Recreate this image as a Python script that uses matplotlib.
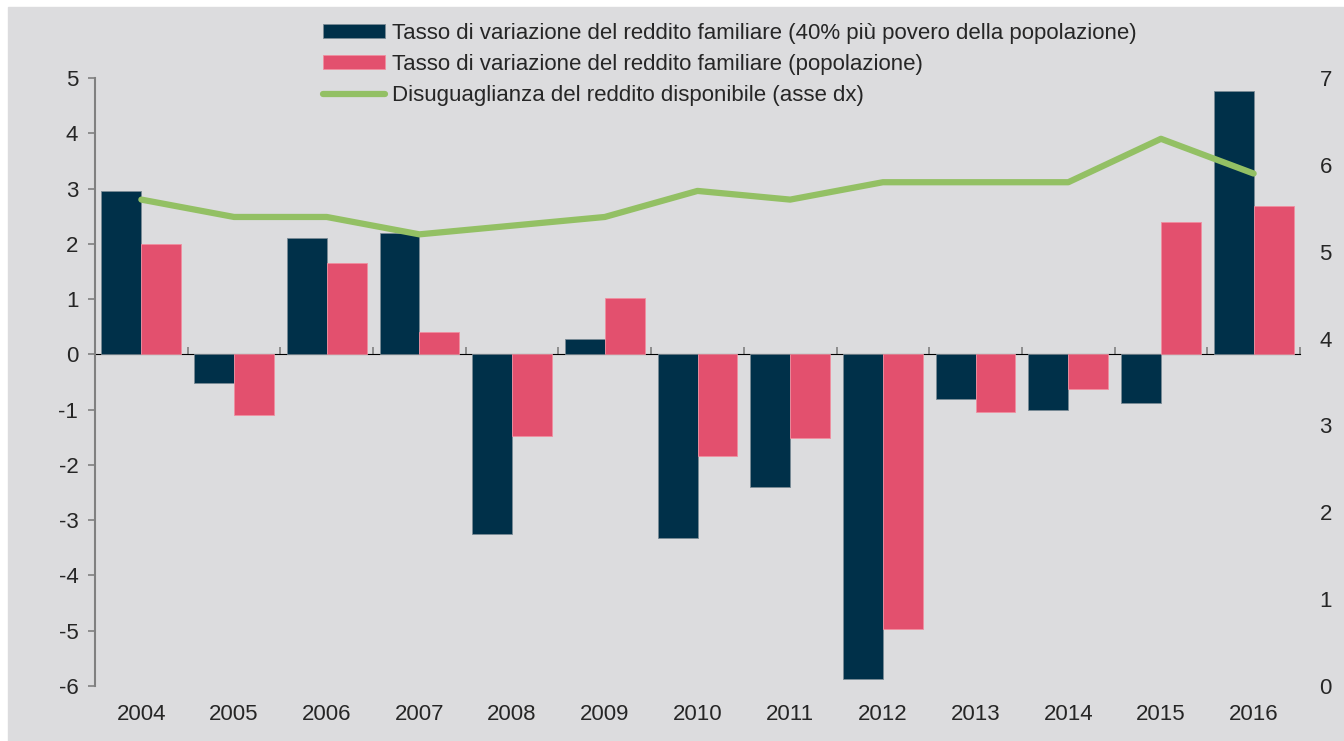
import matplotlib.pyplot as plt
from matplotlib.patches import Rectangle
import numpy as np

plt.rcParams['font.family'] = ['Liberation Sans', 'DejaVu Sans']
plt.rcParams['axes.unicode_minus'] = False

years = ["2004", "2005", "2006", "2007", "2008", "2009", "2010",
         "2011", "2012", "2013", "2014", "2015", "2016"]
poveri = [2.95, -0.52, 2.1, 2.2, -3.25, 0.28, -3.32, -2.4, -5.88, -0.8, -1.0, -0.88, 4.77]
popolazione = [2.0, -1.1, 1.65, 0.4, -1.48, 1.02, -1.83, -1.52, -4.97, -1.05, -0.62, 2.4, 2.68]
disuguaglianza = [5.6, 5.4, 5.4, 5.2, 5.3, 5.4, 5.7, 5.6, 5.8, 5.8, 5.8, 6.3, 5.9]

lab_poveri = "Tasso di variazione del reddito familiare (40% più povero della popolazione)"
lab_pop = "Tasso di variazione del reddito familiare (popolazione)"
lab_dis = "Disuguaglianza del reddito disponibile (asse dx)"

dark = '#003049'
pink = '#e3506e'
green = '#93c064'
grey_bg = '#dcdcde'
txt = '#262626'

fig = plt.figure(figsize=(13.44, 7.41), dpi=100)
fig.patches.append(Rectangle((8/1344, 0), 1 - 8/1344, 1 - 7/741,
                             transform=fig.transFigure, color=grey_bg, zorder=-10))

ax = fig.add_axes([95/1344, 55/741, 1205/1344, 608/741])
ax.set_facecolor(grey_bg)
x = np.arange(len(years))
w = 0.43
ax.bar(x - w/2, poveri, w, color=dark, edgecolor='#7a8a95', linewidth=0.6, label=lab_poveri)
ax.bar(x + w/2, popolazione, w, color=pink, edgecolor='#f08ea0', linewidth=0.6, label=lab_pop)

ax.set_xlim(-0.5, len(years) - 0.5)
ax.set_ylim(-6, 5)
ax.set_yticks(range(-6, 6))
ax.set_xticks(x)
ax.set_xticklabels(years)
for s in ['top', 'right', 'bottom']:
    ax.spines[s].set_visible(False)
ax.spines['left'].set_color('#808080')
ax.spines['left'].set_linewidth(1.5)
ax.tick_params(axis='y', colors='#808080', labelcolor=txt, labelsize=16, length=5, width=1.2, pad=7)
ax.tick_params(axis='x', length=0, labelsize=16, labelcolor=txt, pad=13)

# asse orizzontale sullo zero
sec = ax.secondary_xaxis(6/11)
sec.set_xticks(np.arange(-0.5, len(years), 1.0))
sec.set_xticklabels([])
sec.spines['bottom'].set_color('#808080')
sec.spines['bottom'].set_linewidth(1.5)
sec.tick_params(axis='x', colors='#808080', length=5, width=1.2, direction='out')

ax2 = ax.twinx()
ax2.plot(x, disuguaglianza, color=green, linewidth=4.5, solid_capstyle='round', label=lab_dis)
ax2.set_ylim(0, 7)
ax2.set_yticks(range(0, 8))
for s in ax2.spines.values():
    s.set_visible(False)
ax2.tick_params(axis='y', length=0, labelsize=16, labelcolor=txt, pad=14)

h1, l1 = ax.get_legend_handles_labels()
h2, l2 = ax2.get_legend_handles_labels()
fig.legend(h1 + h2, l1 + l2, loc='upper left', bbox_to_anchor=(303/1344, 1 - 3/741),
           frameon=False, fontsize=16, handlelength=2.8, handleheight=0.55,
           handletextpad=0.3, labelspacing=0.45, labelcolor=txt)

plt.savefig('out.png', dpi=100)
